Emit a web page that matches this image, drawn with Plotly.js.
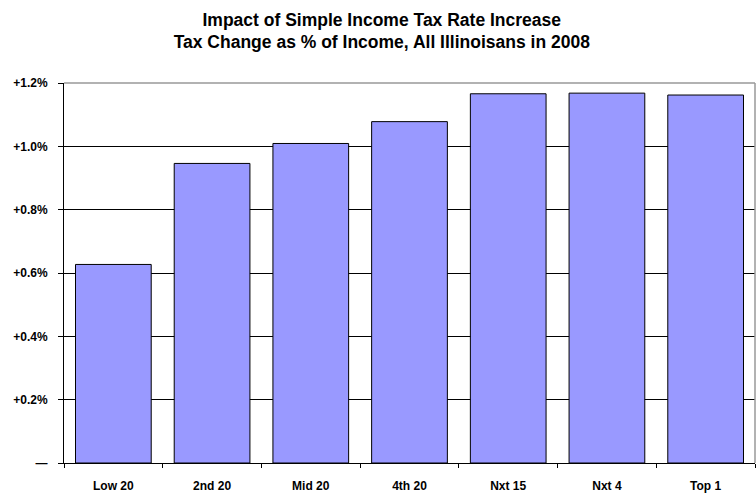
<!DOCTYPE html>
<html>
<head>
<meta charset="utf-8">
<script src="https://cdn.plot.ly/plotly-3.0.1.min.js"></script>
<style>html,body{margin:0;padding:0;background:#fff;}#chart{width:756px;height:495px;}</style>
</head>
<body>
<div id="chart"></div>
<script>
const categories = ["Low 20", "2nd 20", "Mid 20", "4th 20", "Nxt 15", "Nxt 4", "Top 1"];
const taxChangePct = [0.627, 0.946, 1.009, 1.078, 1.166, 1.168, 1.162];
const yTickVals = [0, 0.2, 0.4, 0.6, 0.8, 1.0, 1.2];
const yTickText = ["\u2014", "+0.2%", "+0.4%", "+0.6%", "+0.8%", "+1.0%", "+1.2%"];

const tickFont = {family: "'Liberation Sans Narrow', 'Arial Narrow', 'Liberation Sans', Arial, sans-serif", size: 12, color: "#000", weight: "bold"};

Plotly.newPlot("chart", [{
  type: "bar",
  x: categories,
  y: taxChangePct,
  marker: {color: "#9999FF", line: {color: "#000", width: 1}},
  hoverinfo: "x+y"
}], {
  width: 756, height: 495,
  margin: {l: 64, r: 1, t: 83, b: 32},
  paper_bgcolor: "#fff", plot_bgcolor: "#fff",
  bargap: 0.233,
  showlegend: false,
  title: {
    text: "<b>Impact of Simple Income Tax Rate Increase<br>Tax Change as % of Income, All Illinoisans in 2008</b>",
    font: {family: "'Liberation Sans', Arial, sans-serif", size: 17.5, color: "#000"},
    x: 0.505, xanchor: "center", y: 0.948, yanchor: "top"
  },
  xaxis: {
    type: "category",
    showline: true, linecolor: "#000", linewidth: 1,
    ticks: "outside", tickson: "boundaries", ticklen: 4, tickcolor: "#000",
    tickfont: tickFont, ticklabelstandoff: 12,
    showgrid: false
  },
  yaxis: {
    range: [0, 1.2],
    tickvals: yTickVals, ticktext: yTickText,
    showline: true, linecolor: "#000", linewidth: 1,
    ticks: "outside", ticklen: 5, tickcolor: "#000",
    tickfont: tickFont, ticklabelstandoff: 8,
    showgrid: true, gridcolor: "#000", gridwidth: 1,
    zeroline: false
  },
  shapes: [
    {type: "line", xref: "paper", yref: "paper", x0: 0, x1: 1, y0: 1, y1: 1, line: {color: "#999", width: 1.5}, layer: "above"},
    {type: "line", xref: "paper", yref: "paper", x0: 1, x1: 1, y0: 0, y1: 1, line: {color: "#999", width: 1.5}, layer: "above"}
  ]
}, {displayModeBar: false});
</script>
</body>
</html>
